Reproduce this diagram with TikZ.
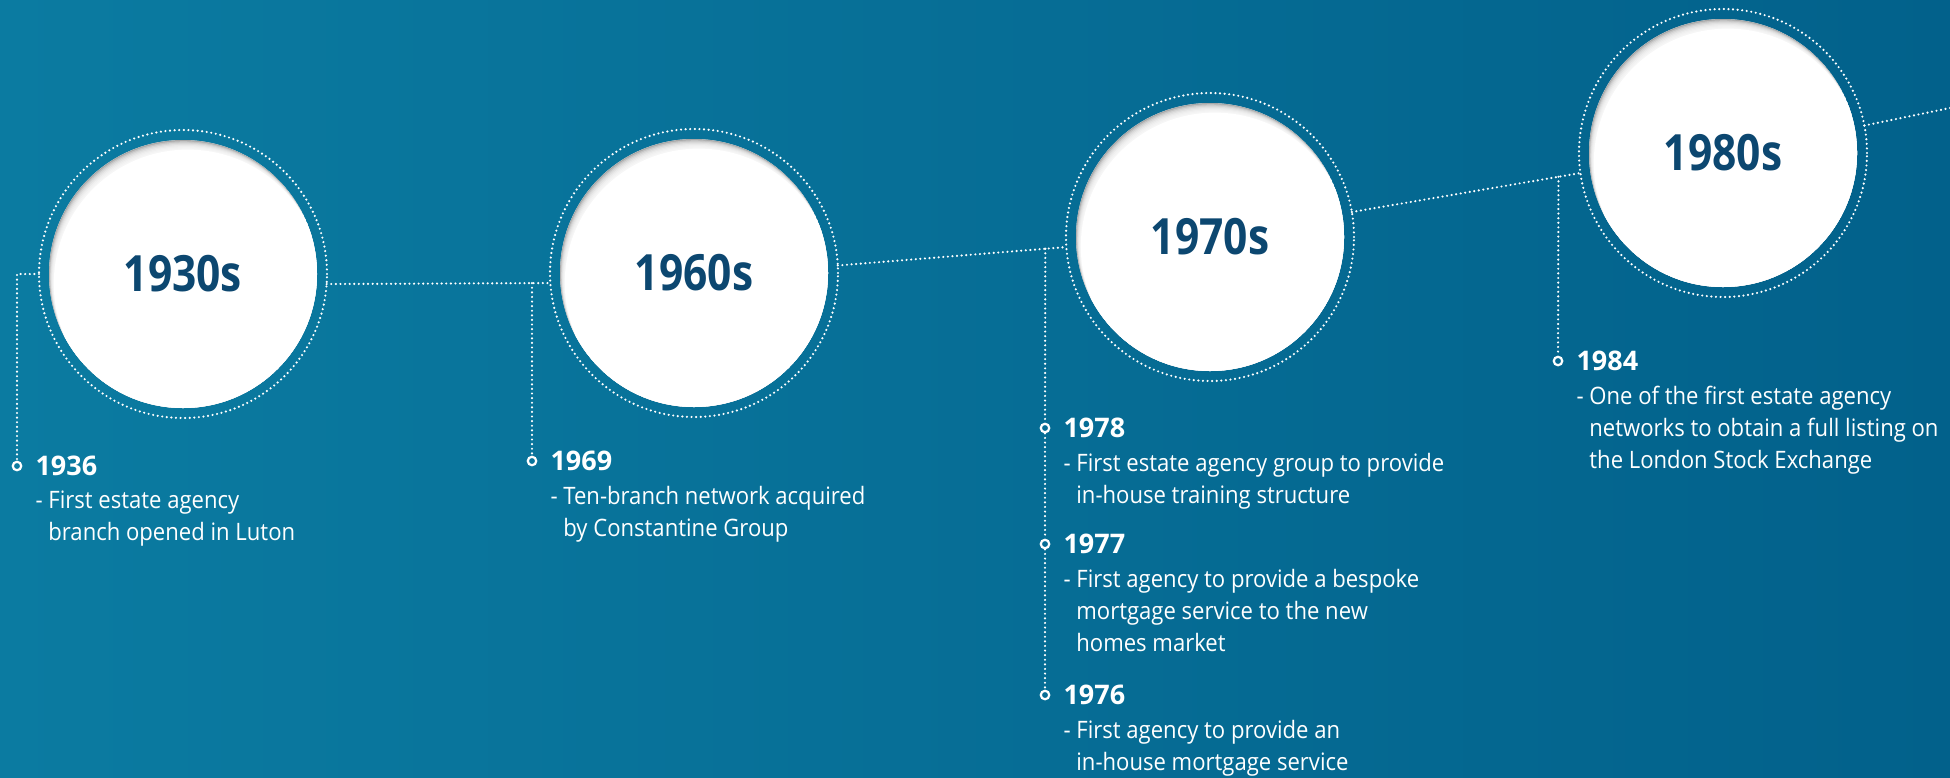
\documentclass[tikz,border=0pt]{standalone}
\usepackage{fontspec}
\setmainfont{Open Sans}
\newfontfamily\decadefont{Open Sans}[FakeStretch=0.85]
\newfontfamily\notefont{Open Sans}[FakeStretch=0.92]
\usetikzlibrary{positioning}

\definecolor{bgleft}{HTML}{0B7BA1}
\definecolor{bgright}{HTML}{02618B}
\definecolor{navy}{HTML}{0C4770}

\tikzset{
  dotline/.style={white, line width=2.4pt, line cap=round, dash pattern=on 0pt off 4.6pt},
  decade/.style={circle, minimum size=268pt, inner sep=0pt, outer sep=10pt, fill=white, text=navy,
    font=\decadefont\bfseries\fontsize{50}{50}\selectfont,
    path picture={
      \fill[black!34] (path picture bounding box.center) circle (134pt);
      \foreach \k in {1,...,7}
        \fill[white, opacity=.3] ([shift={({0.6*\k*1pt},{-1.2*\k*1pt})}]path picture bounding box.center) circle (134pt);
      \fill[white] ([shift={(4.8pt,-9.6pt)}]path picture bounding box.center) circle (134pt);
    }},
  knob/.style={circle, draw=white, line width=2.2pt, inner sep=0pt, minimum size=8.5pt},
  yearlbl/.style={text=white, inner sep=0pt, font=\bfseries\fontsize{27}{27}\selectfont},
  note/.style={text=white, inner sep=0pt, align=left, font=\notefont\fontsize{24}{32}\selectfont},
}

\begin{document}
\begin{tikzpicture}[x=1pt, y=-1pt]

\shade[left color=bgleft, right color=bgright] (0,0) rectangle (1950,777);
\useasboundingbox (0,0) rectangle (1950,777);

% decades
\node[decade] (c1930) at (183,274) {1930s};
\node[decade] (c1960) at (694,273) {1960s};
\node[decade] (c1970) at (1210,237) {1970s};
\node[decade] (c1980) at (1723,153) {1980s};

\draw[dotline] (c1930.center) circle (144pt);
\draw[dotline] (c1960.center) circle (144pt);
\draw[dotline] (c1970.center) circle (144pt);
\draw[dotline] (c1980.center) circle (144pt);

% markers
\node[knob] (m1936) at (17,466) {};
\node[knob] (m1969) at (532,461) {};
\node[knob] (m1978) at (1045,428) {};
\node[knob] (m1977) at (1045,544) {};
\node[knob] (m1976) at (1045,695) {};
\node[knob] (m1984) at (1558,361) {};

\coordinate (j1930) at (17,274);
\coordinate (edge) at (1950,108);

% timeline
\draw[dotline] (c1930.west) -- (j1930) -- (m1936);
\draw[dotline] (c1930.-4) -- coordinate[pos=.918] (j1960) (c1960.184);
\draw[dotline] (c1960.3) -- coordinate[pos=.908] (j1970) (c1970.184);
\draw[dotline] (c1970.10) -- coordinate[pos=.904] (j1980) (c1980.188);
\draw[dotline] (c1980.11) -- (edge);

\draw[dotline] (j1960) -- (m1969);
\draw[dotline] (j1970) -- (m1978) -- (m1977) -- (m1976);
\draw[dotline] (j1980) -- (m1984);

% labels
\node[yearlbl, right=13pt of m1936] (y1936) {1936};
\node[note, below right=15pt and 0pt of y1936.south west] (n1936) {- First estate agency\\\hphantom{- }branch opened in Luton};

\node[yearlbl, right=13pt of m1969] (y1969) {1969};
\node[note, below right=15pt and 0pt of y1969.south west] (n1969) {- Ten-branch network acquired\\\hphantom{- }by Constantine Group};

\node[yearlbl, right=13pt of m1978] (y1978) {1978};
\node[note, below right=15pt and 0pt of y1978.south west] (n1978) {- First estate agency group to provide\\\hphantom{- }in-house training structure};

\node[yearlbl, right=13pt of m1977] (y1977) {1977};
\node[note, below right=15pt and 0pt of y1977.south west] (n1977) {- First agency to provide a bespoke\\\hphantom{- }mortgage service to the new\\\hphantom{- }homes market};

\node[yearlbl, right=13pt of m1976] (y1976) {1976};
\node[note, below right=15pt and 0pt of y1976.south west] (n1976) {- First agency to provide an\\\hphantom{- }in-house mortgage service};

\node[yearlbl, right=13pt of m1984] (y1984) {1984};
\node[note, below right=15pt and 0pt of y1984.south west] (n1984) {- One of the first estate agency\\\hphantom{- }networks to obtain a full listing on\\\hphantom{- }the London Stock Exchange};

\end{tikzpicture}
\end{document}
